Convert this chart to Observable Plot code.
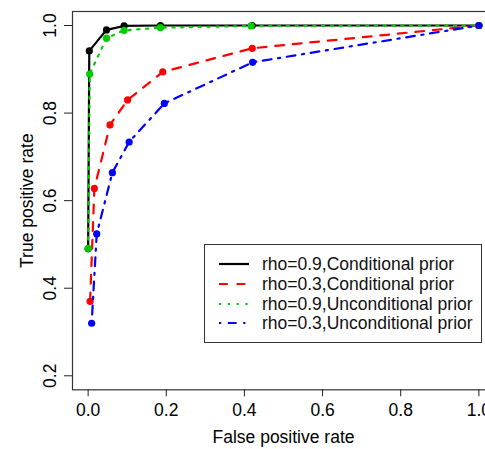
<!DOCTYPE html>
<html><head><meta charset="utf-8">
<script src="https://cdn.jsdelivr.net/npm/d3@7"></script>
<script src="https://cdn.jsdelivr.net/npm/@observablehq/plot@0.6"></script>
<style>
body{margin:0;overflow:hidden;background:white;font-family:"Liberation Sans",Arial,sans-serif}
#wrap{position:relative;width:485px;height:449px;overflow:hidden}
#legend{position:absolute;left:204px;top:244px;width:276px;height:97px;border:1px solid #333;background:white}
.row{position:absolute;left:0;height:20px;line-height:20px;font-size:17.5px;color:#111}
.row svg{position:absolute;left:13px;top:0}
.row span{position:absolute;left:57px;top:0;white-space:nowrap}
</style>
</head><body><div id="wrap"></div>
<script>
const seriesNames = ["rho=0.9,Conditional prior", "rho=0.3,Conditional prior", "rho=0.9,Unconditional prior", "rho=0.3,Unconditional prior"];
const seriesColors = ["#000000", "#FF0000", "#00CD00", "#0000FF"];
const seriesDash = [null, "8.8,8.8", "2.2,6.6", "2.2,6.6,8.8,6.6"];

const fprCond09 = [0, 0.003, 0.047, 0.092, 0.185, 0.42, 1];
const tprCond09 = [0.49, 0.942, 0.990, 0.999, 1.0, 1.0, 1.0];
const fprCond03 = [0.005, 0.016, 0.056, 0.101, 0.191, 0.42, 1];
const tprCond03 = [0.370, 0.628, 0.773, 0.830, 0.894, 0.948, 1.0];
const fprUnc09 = [0, 0.004, 0.047, 0.092, 0.185, 0.417, 1];
const tprUnc09 = [0.491, 0.889, 0.971, 0.989, 0.995, 0.999, 1.0];
const fprUnc03 = [0.009, 0.022, 0.062, 0.105, 0.195, 0.421, 1];
const tprUnc03 = [0.320, 0.524, 0.664, 0.734, 0.822, 0.916, 1.0];

const xTicks = [0, 0.2, 0.4, 0.6, 0.8, 1.0];
const yTicks = [0.2, 0.4, 0.6, 0.8, 1.0];
const xTitle = "False positive rate";
const yTitle = "True positive rate";

const fprs = [fprCond09, fprCond03, fprUnc09, fprUnc03];
const tprs = [tprCond09, tprCond03, tprUnc09, tprUnc03];
const seriesData = seriesNames.map((name, i) => fprs[i].map((f, j) => ({fpr: f, tpr: tprs[i][j], series: name})));

const fmt = d3.format(".1f");
const fs = 17.5;

const seriesMarks = [];
seriesData.forEach((rows, i) => {
  const opts = {x: "fpr", y: "tpr", stroke: seriesColors[i], strokeWidth: 2.2};
  if (seriesDash[i]) opts.strokeDasharray = seriesDash[i];
  seriesMarks.push(Plot.line(rows, opts));
  seriesMarks.push(Plot.dot(rows, {x: "fpr", y: "tpr", r: 3.6, fill: seriesColors[i], stroke: "none"}));
});

const chart = Plot.plot({
  width: 494, height: 449,
  marginLeft: 72, marginRight: 0, marginTop: 11, marginBottom: 59.7,
  x: {domain: [-0.04, 1.04]},
  y: {domain: [0.168, 1.032]},
  style: {fontFamily: "'Liberation Sans', Arial, sans-serif", maxWidth: "none", background: "white"},
  marks: [
    Plot.frame({stroke: "#333", strokeWidth: 1.2}),
    Plot.axisX({ticks: xTicks, tickSize: 7, tickPadding: 6.5, fontSize: fs, tickFormat: fmt, label: null, stroke: "#222"}),
    Plot.axisY({ticks: yTicks, tickSize: 8, tickFormat: () => "", label: null, stroke: "#222"}),
    Plot.text(yTicks, {y: d => d, frameAnchor: "left", textAnchor: "middle", lineAnchor: "middle", rotate: -90, dx: -22.4, fontSize: fs, text: d => fmt(d)}),
    Plot.text([xTitle], {frameAnchor: "bottom", textAnchor: "middle", lineAnchor: "middle", dy: 48, fontSize: fs, text: d => d}),
    Plot.text([yTitle], {frameAnchor: "left", textAnchor: "middle", lineAnchor: "middle", rotate: -90, dx: -45.4, fontSize: fs, text: d => d}),
    ...seriesMarks
  ]
});
const wrap = document.getElementById("wrap");
wrap.appendChild(chart);

const legend = document.createElement("div");
legend.id = "legend";
const rowTops = [9, 29, 49, 68];
seriesNames.forEach((name, i) => {
  const row = document.createElement("div");
  row.className = "row";
  row.style.top = rowTops[i] + "px";
  const dash = seriesDash[i] ? ` stroke-dasharray="${seriesDash[i]}"` : "";
  row.innerHTML = `<svg width="32" height="20"><line x1="1" x2="31" y1="10" y2="10" stroke="${seriesColors[i]}" stroke-width="2.2"${dash}/></svg><span>${name}</span>`;
  legend.appendChild(row);
});
wrap.appendChild(legend);
</script>
</body></html>
